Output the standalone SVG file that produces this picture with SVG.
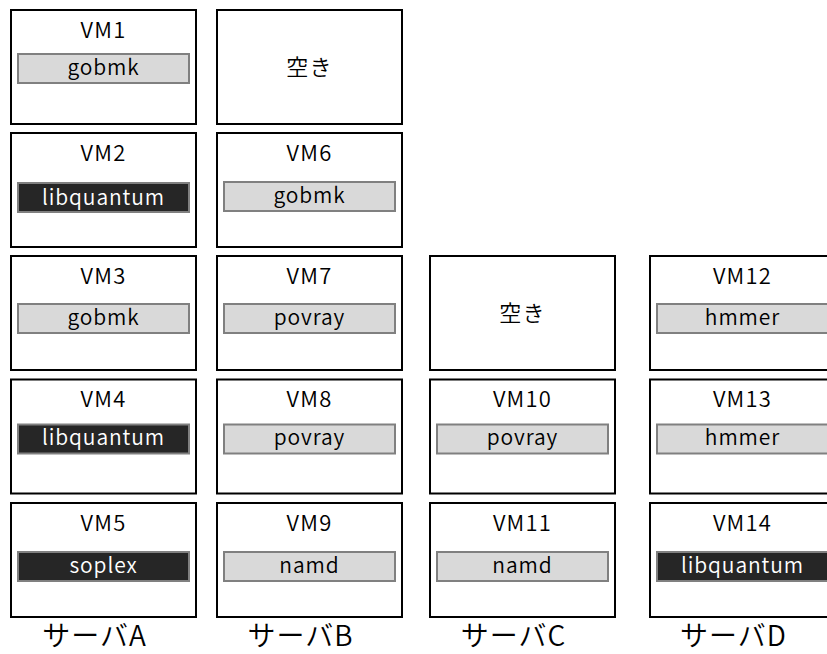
<svg xmlns="http://www.w3.org/2000/svg" width="827" height="654" viewBox="0 0 827 654">
<style>
.box{fill:#fff;stroke:#000;stroke-width:2}
.bl{fill:#d9d9d9;stroke:#808080;stroke-width:2}
.bd{fill:#262626;stroke:#808080;stroke-width:2}
text{font-family:"Noto Sans CJK JP","Noto Sans",sans-serif;text-anchor:middle;font-weight:350}
.t{font-size:22px;fill:#000;letter-spacing:1.2px}
.l{font-size:21px;fill:#000;letter-spacing:0.9px}
.w{font-size:21px;fill:#fff;letter-spacing:0.9px}
.s{font-size:28px;fill:#000;letter-spacing:1px}
</style>
<rect width="827" height="654" fill="#fff"/>
<g id="serverA">
<g id="vm1"><rect class="box" x="11" y="10" width="185" height="114"/><text class="t" x="103.5" y="37.5">VM1</text><rect class="bl" x="18" y="54" width="171" height="29"/><text class="l" x="103.5" y="74.5">gobmk</text></g>
<g id="vm2"><rect class="box" x="11" y="133" width="185" height="114"/><text class="t" x="103.5" y="160.5">VM2</text><rect class="bd" x="18" y="183" width="171" height="29"/><text class="w" x="103.5" y="204.5">libquantum</text></g>
<g id="vm3"><rect class="box" x="11" y="256" width="185" height="114"/><text class="t" x="103.5" y="283.5">VM3</text><rect class="bl" x="18" y="304" width="171" height="29"/><text class="l" x="103.5" y="324.5">gobmk</text></g>
<g id="vm4"><rect class="box" x="11" y="379.5" width="185" height="114"/><text class="t" x="103.5" y="407">VM4</text><rect class="bd" x="18" y="424.5" width="171" height="29"/><text class="w" x="103.5" y="445">libquantum</text></g>
<g id="vm5"><rect class="box" x="11" y="503" width="185" height="114"/><text class="t" x="103.5" y="530.5">VM5</text><rect class="bd" x="18" y="552" width="171" height="29"/><text class="w" x="103.5" y="572.5">soplex</text></g>
<text class="s" x="94.5" y="646">サーバA</text>
</g>
<g id="serverB">
<g id="freeB"><rect class="box" x="217" y="10" width="185" height="114"/><text class="t" x="309.5" y="75">空き</text></g>
<g id="vm6"><rect class="box" x="217" y="133" width="185" height="114"/><text class="t" x="309.5" y="160.5">VM6</text><rect class="bl" x="224" y="182" width="171" height="29"/><text class="l" x="309.5" y="202.5">gobmk</text></g>
<g id="vm7"><rect class="box" x="217" y="256" width="185" height="114"/><text class="t" x="309.5" y="283.5">VM7</text><rect class="bl" x="224" y="304" width="171" height="29"/><text class="l" x="309.5" y="324.5">povray</text></g>
<g id="vm8"><rect class="box" x="217" y="379.5" width="185" height="114"/><text class="t" x="309.5" y="407">VM8</text><rect class="bl" x="224" y="424.5" width="171" height="29"/><text class="l" x="309.5" y="445">povray</text></g>
<g id="vm9"><rect class="box" x="217" y="503" width="185" height="114"/><text class="t" x="309.5" y="530.5">VM9</text><rect class="bl" x="224" y="552" width="171" height="29"/><text class="l" x="309.5" y="572.5">namd</text></g>
<text class="s" x="300.5" y="646">サーバB</text>
</g>
<g id="serverC">
<g id="freeC"><rect class="box" x="430" y="256" width="185" height="114"/><text class="t" x="522.5" y="321">空き</text></g>
<g id="vm10"><rect class="box" x="430" y="379.5" width="185" height="114"/><text class="t" x="522.5" y="407">VM10</text><rect class="bl" x="437" y="424.5" width="171" height="29"/><text class="l" x="522.5" y="445">povray</text></g>
<g id="vm11"><rect class="box" x="430" y="503" width="185" height="114"/><text class="t" x="522.5" y="530.5">VM11</text><rect class="bl" x="437" y="552" width="171" height="29"/><text class="l" x="522.5" y="572.5">namd</text></g>
<text class="s" x="513.5" y="646">サーバC</text>
</g>
<g id="serverD">
<g id="vm12"><rect class="box" x="650" y="256" width="185" height="114"/><text class="t" x="742.5" y="283.5">VM12</text><rect class="bl" x="657" y="304" width="171" height="29"/><text class="l" x="742.5" y="324.5">hmmer</text></g>
<g id="vm13"><rect class="box" x="650" y="379.5" width="185" height="114"/><text class="t" x="742.5" y="407">VM13</text><rect class="bl" x="657" y="424.5" width="171" height="29"/><text class="l" x="742.5" y="445">hmmer</text></g>
<g id="vm14"><rect class="box" x="650" y="503" width="185" height="114"/><text class="t" x="742.5" y="530.5">VM14</text><rect class="bd" x="657" y="552" width="171" height="29"/><text class="w" x="742.5" y="572.5">libquantum</text></g>
<text class="s" x="733.5" y="646">サーバD</text>
</g>
<g id="connectors"/>
</svg>
